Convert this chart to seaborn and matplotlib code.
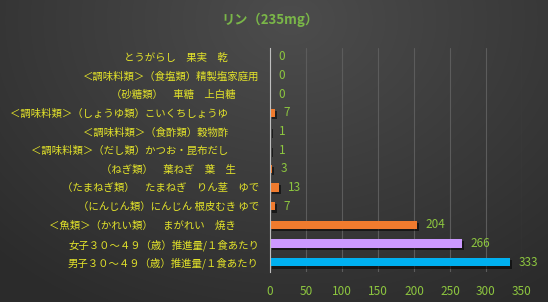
import numpy as np
import pandas as pd
import matplotlib
matplotlib.use("Agg")
import matplotlib.pyplot as plt
import matplotlib.patheffects as pe
import seaborn as sns

title = "リン（235mg）"
categories = [
    "とうがらし　果実　乾　　　",
    "＜調味料類＞（食塩類）精製塩家庭用",
    "（砂糖類）　車糖　上白糖　　 ",
    "＜調味料類＞（しょうゆ類）こいくちしょうゆ　　　",
    "＜調味料類＞（食酢類）穀物酢　　　",
    "＜調味料類＞（だし類）かつお・昆布だし　　　",
    "（ねぎ類）　葉ねぎ　葉　生　　 ",
    "（たまねぎ類）　たまねぎ　りん茎　ゆで",
    "（にんじん類）にんじん 根皮むき ゆで",
    "＜魚類＞（かれい類）　まがれい　焼き　　 ",
    "女子３０～４９（歳）推進量/１食あたり",
    "男子３０～４９（歳）推進量/１食あたり",
]
values = [0, 0, 0, 7, 1, 1, 3, 13, 7, 204, 266, 333]
bar_colors = ["#F07B2E"] * 10 + ["#CC99FF", "#00B0F0"]
xticks = [0, 50, 100, 150, 200, 250, 300, 350]

df = pd.DataFrame({"cat": categories, "val": values})

sns.set_style("dark")
plt.rcParams["font.family"] = ["Noto Sans CJK JP", "DejaVu Sans"]

fig = plt.figure(figsize=(5.48, 3.02), dpi=100)

# background gradient
bg = fig.add_axes([0, 0, 1, 1], zorder=-10)
h, w = 302, 548
yy, xx = np.mgrid[0:h, 0:w]
d = np.sqrt(((xx - 290) / 420.0) ** 2 + ((yy - 20) / 330.0) ** 2)
val = np.clip(0.30 - 0.13 * d, 0.17, 0.30)
img = np.dstack([val, val, val])
bg.imshow(img, aspect="auto", extent=[0, 1, 0, 1])
bg.axis("off")

ax = fig.add_axes([270 / 548, 1 - 271.5 / 302, 252 / 548, (271.5 - 47.5) / 302])
ax.set_facecolor("none")
sns.barplot(data=df, x="val", y="cat", hue="cat", palette=bar_colors,
            orient="h", width=0.46, legend=False, ax=ax, zorder=3,
            saturation=1, linewidth=0)
for p in ax.patches:
    p.set_path_effects([pe.SimplePatchShadow(offset=(1.5, -1.5), alpha=0.55,
                                             shadow_rgbFace="black"), pe.Normal()])

ax.set_xlim(0, 350)
ax.set_xticks(xticks)
ax.set_xticklabels([str(t) for t in xticks], color="#8DC63F", fontsize=8.5)
ax.tick_params(axis="x", length=0, pad=10)
ax.tick_params(axis="y", length=0, pad=8, labelsize=7.5, labelcolor="#E3E32A")
ax.set_xlabel("")
ax.set_ylabel("")
ax.grid(axis="x", color="#5c5c5c", linewidth=0.8, zorder=0)
ax.grid(axis="y", visible=False)
for s in ["top", "right", "bottom"]:
    ax.spines[s].set_visible(False)
ax.spines["left"].set_color("#bfbfbf")
ax.spines["left"].set_linewidth(0.8)
ax.spines["left"].set_zorder(4)

for i, v in enumerate(values):
    ax.text(v + 12, i, str(v), va="center", ha="left", color="#8DC63F", fontsize=8.5)

fig.text(270 / 548, 1 - 20 / 302, title, ha="center", va="center",
         color="#7AB648", fontsize=9.5, fontweight="bold")

fig.savefig("out.png", dpi=100)
